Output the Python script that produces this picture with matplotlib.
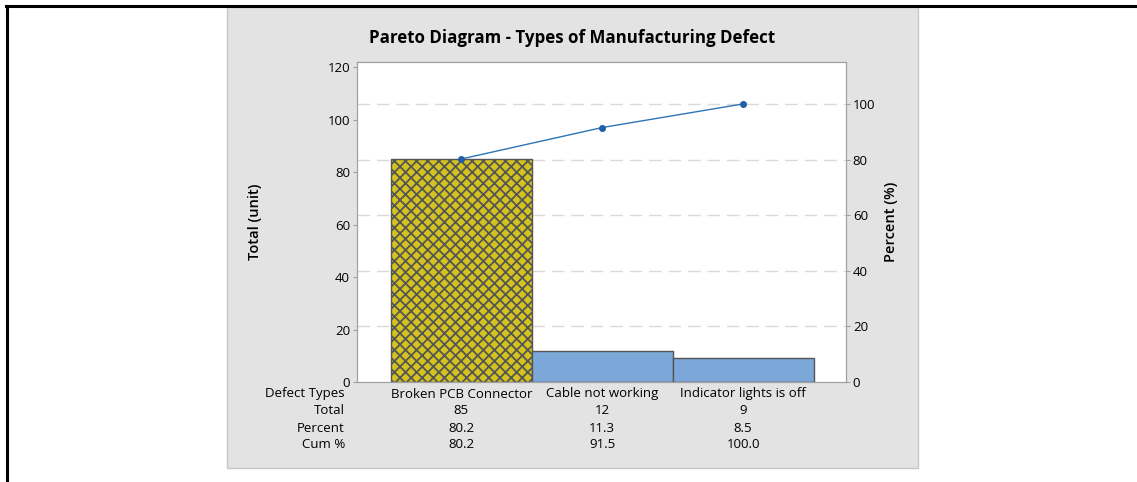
import matplotlib
matplotlib.use("Agg")
import matplotlib.pyplot as plt
import matplotlib.transforms as mtransforms
from matplotlib.patches import Rectangle
from matplotlib.lines import Line2D
import numpy as np

# data
defects = ["Broken PCB Connector", "Cable not working", "Indicator lights is off"]
totals = [85, 12, 9]
percents = [80.2, 11.3, 8.5]
cum_pct = [80.2, 91.5, 100.0]

plt.rcParams['font.family'] = ['Open Sans', 'DejaVu Sans']
plt.rcParams['hatch.linewidth'] = 1.3

fig = plt.figure(figsize=(11.37, 4.82), dpi=100)
fig.patch.set_facecolor("white")

# gray panel behind the chart
fig.patches.append(Rectangle((0.1996, 0.029), 0.6078, 0.9565, transform=fig.transFigure,
                             facecolor="#e3e3e3", edgecolor="#c8c8c8", lw=1, zorder=-10))
# black page frame lines
fig.lines.append(Line2D([0.005, 1.0], [0.9876, 0.9876], transform=fig.transFigure,
                        color="black", lw=2.2, zorder=-5))
fig.lines.append(Line2D([0.0062, 0.0062], [0.0, 0.9876], transform=fig.transFigure,
                        color="black", lw=2.2, zorder=-5))

ax = fig.add_axes([0.314, 0.2075, 0.430, 0.664])
ax.set_facecolor("white")
x = np.arange(len(defects))

colors = ["#d4c21e", "#7ba7d9", "#7ba7d9"]
hatches = ["xxx", "", ""]
for i in x:
    ax.bar(x[i], totals[i], width=1.0, color=colors[i], edgecolor="#555555",
           hatch=hatches[i], linewidth=1, zorder=2)

ymax = 122
ax.set_ylim(0, ymax)
ax.set_xlim(-0.74, 2.73)
ax.set_yticks(range(0, 121, 20))
ax.set_xticks(x)
ax.set_xticklabels([])
ax.tick_params(axis="x", direction="in", length=3, color="#a0a0a0")
ax.tick_params(axis="y", length=3, color="#a0a0a0", labelsize=9.5, pad=2)
for s in ax.spines.values():
    s.set_color("#a0a0a0")
ax.set_ylabel("Total (unit)", fontsize=10.5, fontweight="semibold")
ax.yaxis.set_label_coords(-0.194, 0.5)

ax2 = ax.twinx()
ax2.set_ylim(0, ymax * 100 / sum(totals))
ax2.set_yticks(range(0, 101, 20))
ax2.tick_params(axis="y", length=3, color="#a0a0a0", labelsize=9.5, pad=2)
for s in ax2.spines.values():
    s.set_color("#a0a0a0")
ax2.set_ylabel("Percent (%)", fontsize=10.5, fontweight="semibold")
ax2.yaxis.set_label_coords(1.077, 0.5)

# dashed gridlines from percent axis, behind the bars
for g in range(20, 101, 20):
    ax.axhline(g * sum(totals) / 100, color="#dadada", lw=1, ls=(0, (9, 5)), zorder=1)

ax2.plot(x, cum_pct, color="#2e75b6", lw=1, marker="o", markersize=4,
         markerfacecolor="#1f5fa6", markeredgecolor="#1f5fa6", zorder=3)

fig.text(0.5035, 0.921, "Pareto Diagram - Types of Manufacturing Defect",
         ha="center", va="center", fontsize=12.2, fontweight="bold")

# table under the chart
trans = mtransforms.blended_transform_factory(ax.transData, fig.transFigure)
row_y = [1 - 394 / 482, 1 - 411 / 482, 1 - 428 / 482, 1 - 444 / 482]
row_names = ["Defect Types", "Total", "Percent", "Cum %"]
rows = [defects, [str(t) for t in totals], [f"{p:.1f}" for p in percents],
        [f"{c:.1f}" for c in cum_pct]]
for yy, name, vals in zip(row_y, row_names, rows):
    fig.text(345 / 1137, yy, name, ha="right", va="center", fontsize=9.5)
    for i, v in enumerate(vals):
        ax.text(x[i], yy, v, transform=trans, ha="center", va="center", fontsize=9.5)

fig.savefig("out.png", dpi=100)
